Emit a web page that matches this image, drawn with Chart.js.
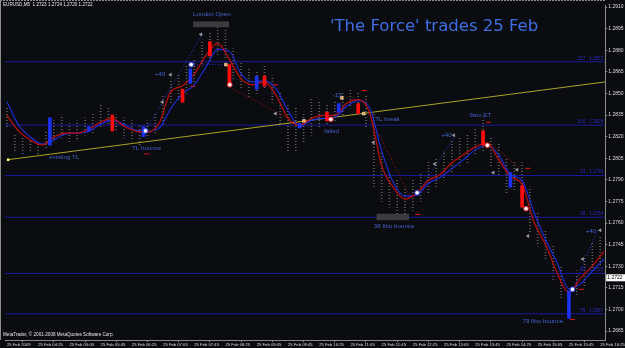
<!DOCTYPE html>
<html>
<head>
<meta charset="utf-8">
<script src="https://cdn.jsdelivr.net/npm/chart.js@4.4.1/dist/chart.umd.min.js"></script>
<style>
  html, body { margin: 0; padding: 0; background: #0b0c0f; }
  #wrap { width: 625px; height: 348px; }
</style>
</head>
<body>
<div id="wrap"><canvas id="canvas" width="625" height="348"></canvas></div>
<script>
// EURUSD M5, bar 0 = 25 Feb 03:45
var tickBars = [0, 8, 16, 24, 32, 40, 48, 56, 64, 72, 80, 88, 96, 104, 112, 120, 128, 136, 144, 152];
var tickLabels = ['25 Feb 2009', '25 Feb 04:25', '25 Feb 05:05', '25 Feb 05:45', '25 Feb 06:25', '25 Feb 07:05',
	'25 Feb 07:45', '25 Feb 08:25', '25 Feb 09:05', '25 Feb 09:45', '25 Feb 10:25', '25 Feb 11:05', '25 Feb 11:45',
	'25 Feb 12:25', '25 Feb 13:05', '25 Feb 13:45', '25 Feb 14:25', '25 Feb 15:05', '25 Feb 15:45', '25 Feb 16:25'];
var priceTicks = [1.2685, 1.2700, 1.2715, 1.2730, 1.2745, 1.2760, 1.2775, 1.2790, 1.2805, 1.2820,
	1.2835, 1.2850, 1.2865, 1.2880, 1.2895, 1.2910];
var barMin = -0.5, barMax = 153.3;
var priceMin = 1.26788, priceMax = 1.29114;
var lastPrice = 1.2722;

// moving averages, read every 3 bars
var maBars = [0, 3, 6, 9, 12, 15, 18, 21, 24, 27, 30, 33, 36, 39, 42, 45, 48, 51, 54, 57, 60, 63, 66, 69, 72, 75,
	78, 81, 84, 87, 90, 93, 96, 99, 102, 105, 108, 111, 114, 117, 120, 123, 126, 129, 132, 135, 138, 141, 144, 147, 150, 153];
var redMA = [1.28348, 1.28238, 1.28177, 1.28142, 1.28197, 1.28224, 1.28224, 1.28252, 1.28300, 1.28327,
	1.28272, 1.28238, 1.28231, 1.28293, 1.28512, 1.28553, 1.28635, 1.28765, 1.28847, 1.28737,
	1.28601, 1.28560, 1.28580, 1.28484, 1.28327, 1.28279, 1.28327, 1.28348, 1.28348, 1.28430,
	1.28457, 1.28361, 1.27999, 1.27848, 1.27766, 1.27807, 1.27896, 1.27937, 1.28019, 1.28074,
	1.28129, 1.28156, 1.28040, 1.27924, 1.27869, 1.27609, 1.27452, 1.27253, 1.27116, 1.27219,
	1.27301, 1.27404];
var blueMA = [1.28443, 1.28279, 1.28197, 1.28149, 1.28177, 1.28218, 1.28224, 1.28238, 1.28286, 1.28313,
	1.28286, 1.28245, 1.28238, 1.28259, 1.28395, 1.28498, 1.28560, 1.28683, 1.28806, 1.28792,
	1.28635, 1.28580, 1.28587, 1.28532, 1.28382, 1.28272, 1.28313, 1.28327, 1.28334, 1.28409,
	1.28450, 1.28395, 1.28101, 1.27882, 1.27787, 1.27794, 1.27876, 1.27917, 1.27978, 1.28040,
	1.28108, 1.28142, 1.28074, 1.27937, 1.27896, 1.27677, 1.27486, 1.27322, 1.27144, 1.27178,
	1.27267, 1.27349];

// bar ranges, every 2nd bar
var candleBars = [0, 2, 4, 6, 8, 10, 12, 14, 16, 18, 20, 22, 24, 26, 28, 30, 32, 34, 36, 38, 40, 42, 44, 46, 48, 50,
	52, 54, 56, 58, 60, 62, 64, 66, 68, 70, 72, 74, 76, 78, 80, 82, 84, 86, 88, 90, 92, 94, 96, 98, 100,
	102, 104, 106, 108, 110, 112, 114, 116, 118, 120, 122, 124, 126, 128, 130, 132, 134, 136, 138, 140,
	142, 144, 146, 148, 150, 152];
var candleHigh = [1.2840, 1.2821, 1.2819, 1.2817, 1.2816, 1.2824, 1.2831, 1.2835, 1.2829, 1.2831,
	1.2833, 1.2837, 1.2842, 1.2840, 1.2835, 1.2833, 1.2831, 1.2828, 1.2831, 1.2836,
	1.2848, 1.2860, 1.2863, 1.2869, 1.2874, 1.2887, 1.2892, 1.2896, 1.2895, 1.2881,
	1.2872, 1.2867, 1.2865, 1.2869, 1.2862, 1.2851, 1.2843, 1.2840, 1.2837, 1.2846,
	1.2844, 1.2843, 1.2844, 1.2850, 1.2853, 1.2851, 1.2848, 1.2836, 1.2809, 1.2795,
	1.2790, 1.2785, 1.2790, 1.2795, 1.2802, 1.2805, 1.2810, 1.2817, 1.2819, 1.2822,
	1.2826, 1.2833, 1.2819, 1.2816, 1.2805, 1.2802, 1.2802, 1.2785, 1.2768, 1.2755,
	1.2744, 1.2730, 1.2716, 1.2727, 1.2737, 1.2746, 1.2751];
var candleLow = [1.2826, 1.2809, 1.2807, 1.2809, 1.2807, 1.2812, 1.2817, 1.2819, 1.2816, 1.2817,
	1.2821, 1.2822, 1.2826, 1.2829, 1.2824, 1.2819, 1.2817, 1.2814, 1.2819, 1.2822,
	1.2829, 1.2843, 1.2846, 1.2850, 1.2857, 1.2869, 1.2872, 1.2877, 1.2874, 1.2860,
	1.2853, 1.2848, 1.2850, 1.2853, 1.2844, 1.2829, 1.2810, 1.2809, 1.2816, 1.2821,
	1.2826, 1.2828, 1.2831, 1.2835, 1.2840, 1.2837, 1.2826, 1.2785, 1.2775, 1.2771,
	1.2764, 1.2766, 1.2769, 1.2775, 1.2780, 1.2785, 1.2790, 1.2795, 1.2799, 1.2802,
	1.2807, 1.2809, 1.2799, 1.2792, 1.2781, 1.2783, 1.2771, 1.2754, 1.2744, 1.2734,
	1.2720, 1.2708, 1.2694, 1.2710, 1.2716, 1.2725, 1.2730];

// signal bars
var redSignalBars = [27, 45, 52, 57, 66, 82, 90, 122, 132];
var redSignalTop = [1.2835, 1.2853, 1.2886, 1.2870, 1.2862, 1.2837, 1.2843, 1.2824, 1.2786];
var redSignalBottom = [1.2824, 1.2844, 1.2876, 1.2855, 1.2855, 1.2831, 1.2836, 1.2814, 1.2771];
var blueSignalBars = [11, 21, 35, 47, 64, 75, 85, 129, 144];
var blueSignalTop = [1.2833, 1.2827, 1.2827, 1.2867, 1.2862, 1.2829, 1.2843, 1.2795, 1.2713];
var blueSignalBottom = [1.2814, 1.2824, 1.2820, 1.2857, 1.2853, 1.2826, 1.2837, 1.2785, 1.2694];

// fibo levels and trend line
var fibNames = ['127', '100', '23', '38', '62', '79'];
var fibPrices = [1.2872, 1.2828, 1.2793, 1.2764, 1.2725, 1.2697];
var trendBars = [0.3, 153.3];
var trendPrices = [1.2804, 1.2858];

// drawn objects: [bar1, price1, bar2, price2]
var blueDotLines = [[35.5, 1.2824, 50, 1.2891], [47.2, 1.2870, 55.9, 1.2870], [105.3, 1.2781, 115, 1.2821], [145, 1.2714, 151.3, 1.2755]];
var redDotLines = [[58, 1.2853, 75.6, 1.2828], [92.6, 1.2836, 103.6, 1.2777], [124.4, 1.2814, 131.5, 1.2798]];

// arrows: [bar, price]
var blueRings = [[35.5, 1.2824], [47.2, 1.2870], [105.1, 1.2781], [144.9, 1.2714]];
var redRings = [[57.1, 1.2856], [83, 1.2832], [123.1, 1.2814], [133, 1.2770]];
var orangeDots = [[56.1, 1.2870], [76.1, 1.2831], [85.8, 1.2847], [91.4, 1.2836]];
var greyTags = [[49.7, 1.2891], [41.9, 1.2863], [39.8, 1.2844], [68.8, 1.2836], [93.9, 1.2816], [109.6, 1.2801],
	[114.5, 1.2821], [124.6, 1.2795], [130.7, 1.2797], [133.5, 1.2751], [147.5, 1.2735], [152, 1.2755]];
var redDashes = [[35.8, 1.2808], [47.7, 1.2855], [68.8, 1.2856], [91.6, 1.2852], [123.4, 1.2830],
	[105.3, 1.2766], [133.5, 1.2798], [147.2, 1.2714], [144.9, 1.2693]];

// text notes: [text, bar, price]
var notes = [['London Open', 52.5, 1.2905], ['existing TL', 14.7, 1.2806], ['TL bounce', 35.8, 1.2812],
	['+40', 39.2, 1.2863], ['-15', 84.6, 1.2849], ['failed', 83.2, 1.2824], ['TL break', 97.5, 1.2832],
	['+40', 112.6, 1.2821], ['9am ET', 121.3, 1.2835], ['38 fibo bounce', 99.2, 1.2758],
	['79 fibo bounce', 137.3, 1.2692], ['+40', 149.6, 1.2754]];
var greyBoxes = [[47.7, 56.9, 1.2900, 1.2896], [94.7, 103, 1.27665, 1.2762]];

function pts(list) {
	return list.map(function(p) { return { x : p[0], y : p[1] }; });
}
function zip(xs, ys) {
	var out = [];
	for (var i = 0; i < xs.length; i++) out.push({ x : xs[i], y : ys[i] });
	return out;
}
function ranges(xs, lo, hi) {
	var out = [];
	for (var i = 0; i < xs.length; i++) out.push({ x : xs[i], y : [lo[i], hi[i]] });
	return out;
}

var ctx = document.getElementById('canvas').getContext('2d');

// dotted grey pattern for the bars
var pc = document.createElement('canvas');
pc.width = 1; pc.height = 3;
var pctx = pc.getContext('2d');
pctx.fillStyle = '#5e5e5e';
pctx.fillRect(0, 0, 1, 1);
var dotted = ctx.createPattern(pc, 'repeat');

var datasets = [];
datasets.push({ type : 'bar', data : ranges(candleBars, candleLow, candleHigh), backgroundColor : dotted,
	barThickness : 1, grouped : false, order : 20 });
fibPrices.forEach(function(p) {
	datasets.push({ type : 'line', data : [{ x : barMin, y : p }, { x : barMax, y : p }],
		borderColor : '#1a1a98', borderWidth : 1, pointRadius : 0, order : 15 });
});
datasets.push({ type : 'line', data : zip(trendBars, trendPrices), borderColor : '#aaa420',
	borderWidth : 1, pointRadius : 0, order : 12 });
blueDotLines.forEach(function(l) {
	datasets.push({ type : 'line', data : [{ x : l[0], y : l[1] }, { x : l[2], y : l[3] }],
		borderColor : '#2a3ad8', borderWidth : 1, borderDash : [1, 2], pointRadius : 0, order : 11 });
});
redDotLines.forEach(function(l) {
	datasets.push({ type : 'line', data : [{ x : l[0], y : l[1] }, { x : l[2], y : l[3] }],
		borderColor : '#a81414', borderWidth : 1, borderDash : [1, 2], pointRadius : 0, order : 11 });
});
datasets.push({ type : 'line', data : zip(maBars, blueMA), borderColor : '#1e2ee0', borderWidth : 1.1,
	pointRadius : 0, cubicInterpolationMode : 'monotone', order : 6 });
datasets.push({ type : 'line', data : zip(maBars, redMA), borderColor : '#c00c0c', borderWidth : 1.2,
	pointRadius : 0, cubicInterpolationMode : 'monotone', order : 5 });
datasets.push({ type : 'bar', data : ranges(redSignalBars, redSignalBottom, redSignalTop), backgroundColor : '#ff0c0c',
	barThickness : 3, grouped : false, order : 4 });
datasets.push({ type : 'bar', data : ranges(blueSignalBars, blueSignalBottom, blueSignalTop), backgroundColor : '#1c30f0',
	barThickness : 3, grouped : false, order : 4 });
datasets.push({ type : 'scatter', data : pts(redDashes), pointStyle : 'line', pointRadius : 2.5,
	borderColor : '#e01818', borderWidth : 1, order : 3 });
datasets.push({ type : 'scatter', data : pts(greyTags), pointStyle : 'triangle', rotation : -90, pointRadius : 1.8,
	backgroundColor : '#a0a0a0', borderColor : '#a0a0a0', borderWidth : 0.5, order : 3 });
datasets.push({ type : 'scatter', data : pts(blueRings), pointRadius : 2.3, backgroundColor : '#ffffff',
	borderColor : '#3a4cff', borderWidth : 1, order : 2 });
datasets.push({ type : 'scatter', data : pts(redRings), pointRadius : 2.3, backgroundColor : '#ffffff',
	borderColor : '#ff2a2a', borderWidth : 1, order : 2 });
datasets.push({ type : 'scatter', data : pts(orangeDots), pointStyle : 'rect', pointRadius : 2, backgroundColor : '#f4a030',
	borderColor : '#ffffff', borderWidth : 0.5, order : 2 });
datasets.push({ type : 'scatter', data : [{ x : trendBars[0], y : trendPrices[0] }], pointStyle : 'rect', pointRadius : 1.8,
	backgroundColor : '#ffff70', borderWidth : 0, order : 2 });

var overlay = {
	id : 'overlay',
	beforeDraw : function(chart) {
		var c = chart.ctx;
		c.save();
		c.fillStyle = '#0b0c0f';
		c.fillRect(0, 0, chart.width, chart.height);
		c.restore();
	},
	afterDraw : function(chart) {
		var c = chart.ctx, x = chart.scales.x, y = chart.scales.y, a = chart.chartArea;
		c.save();
		// frame
		c.strokeStyle = '#8c8c8c';
		c.lineWidth = 1;
		c.setLineDash([2, 1]);
		c.beginPath(); c.moveTo(0, 0.5); c.lineTo(a.right, 0.5); c.stroke();
		c.setLineDash([]);
		c.beginPath(); c.moveTo(0.5, 0); c.lineTo(0.5, a.bottom); c.stroke();

		// grey boxes
		c.fillStyle = '#3c3c3e';
		greyBoxes.forEach(function(b) {
			var x1 = x.getPixelForValue(b[0]), x2 = x.getPixelForValue(b[1]);
			var y1 = y.getPixelForValue(b[2]), y2 = y.getPixelForValue(b[3]);
			c.fillRect(x1, y1, x2 - x1, y2 - y1);
		});

		// notes
		c.font = '6.2px "Liberation Sans"';
		c.fillStyle = '#4262cc';
		c.textAlign = 'center';
		c.textBaseline = 'middle';
		notes.forEach(function(n) {
			c.fillText(n[0], x.getPixelForValue(n[1]), y.getPixelForValue(n[2]));
		});

		// fibo labels
		c.font = '4.6px "Liberation Sans"';
		c.fillStyle = '#2a2ac8';
		c.textAlign = 'right';
		c.textBaseline = 'bottom';
		fibPrices.forEach(function(p, i) {
			var py = y.getPixelForValue(p) - 1;
			c.fillText(p.toFixed(4), a.right - 2, py);
			c.fillText(fibNames[i], a.right - 20, py);
		});

		// header and footer text
		c.fillStyle = '#e6e6e6';
		c.textAlign = 'left';
		c.textBaseline = 'middle';
		c.font = '4.6px "Liberation Sans"';
		c.fillText('EURUSD,M5  1.2723 1.2724 1.2720 1.2722', 3, 5);
		c.fillText('MetaTrader, \u00a9 2001-2008 MetaQuotes Software Corp.', 3, 335);

		// title
		c.fillStyle = '#3d6fe4';
		c.font = '16.5px "DejaVu Sans"';
		c.fillText("'The Force' trades 25 Feb", 330, 27);

		// current price box
		var ly = y.getPixelForValue(lastPrice);
		c.fillStyle = '#ffffff';
		c.fillRect(a.right + 1, ly - 3.5, 625 - a.right - 1, 7);
		c.fillStyle = '#000000';
		c.font = '5px "Liberation Sans"';
		c.fillText(lastPrice.toFixed(4), a.right + 2, ly);
		c.restore();
	}
};

window.myChart = new Chart(ctx, {
	type : 'bar',
	data : { datasets : datasets },
	options : {
		responsive : false,
		animation : false,
		events : [],
		devicePixelRatio : 1,
		layout : { padding : 0 },
		plugins : { legend : { display : false }, tooltip : { enabled : false } },
		scales : {
			x : {
				type : 'linear',
				min : barMin,
				max : barMax,
				offset : false,
				grid : { display : true, drawOnChartArea : false, tickLength : 2, color : '#8c8c8c' },
				border : { display : true, color : '#8c8c8c' },
				afterBuildTicks : function(s) {
					s.ticks = tickBars.map(function(v) { return { value : v }; });
				},
				afterFit : function(s) { s.height = 8; },
				ticks : {
					autoSkip : false,
					maxRotation : 0,
					align : 'start',
					padding : 0,
					color : '#dcdcdc',
					font : { family : 'Liberation Sans', size : 4.2 },
					callback : function(v) { return tickLabels[tickBars.indexOf(v)]; }
				}
			},
			y : {
				type : 'linear',
				position : 'right',
				min : priceMin,
				max : priceMax,
				grid : { display : true, drawOnChartArea : false, tickLength : 2, color : '#8c8c8c' },
				border : { display : true, color : '#8c8c8c' },
				afterBuildTicks : function(s) {
					s.ticks = priceTicks.map(function(v) { return { value : v }; });
				},
				afterFit : function(s) { s.width = 19; },
				ticks : {
					padding : 1,
					color : '#dcdcdc',
					font : { family : 'Liberation Sans', size : 5 },
					callback : function(v) { return v.toFixed(4); }
				}
			}
		}
	},
	plugins : [overlay]
});
</script>
</body>
</html>
